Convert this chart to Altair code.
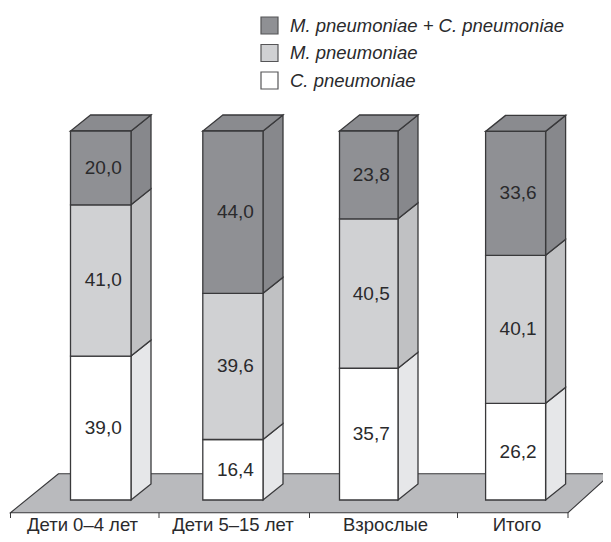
import altair as alt
import pandas as pd

categories = ["Дети 0–4 лет", "Дети 5–15 лет", "Взрослые", "Итого"]
series = ["M. pneumoniae + C. pneumoniae", "M. pneumoniae", "C. pneumoniae"]
both = [20.0, 44.0, 23.8, 33.6]
mp = [41.0, 39.6, 40.5, 40.1]
cp = [39.0, 16.4, 35.7, 26.2]

# layout (x in page pixels, y in per cent)
FONT = "Liberation Sans"
INK = "#39393b"
TEXT = "#2a2a2c"
PX = 3.69
def yv(py):
    return (500 - py) / PX
bar_left = [70.5, 202.8, 339.5, 485.6]
bar_right = [131, 263, 398, 545.6]
DX, DY = 20, 16 / PX
front = {series[0]: "#8f9094", series[1]: "#d0d1d3", series[2]: "#ffffff"}
side = {series[0]: "#87888c", series[1]: "#c0c1c3", series[2]: "#e6e7e9"}
top_fill = "#8a8b8f"
label_x = [82.5, 233, 385.5, 517]
tick_x = [10.5, 159, 309.5, 457.5, 568]

x_scale = alt.Scale(domain=[8, 603], nice=False, zero=False)
y_scale = alt.Scale(domain=[yv(534), yv(8)], nice=False, zero=False)
X = lambda f: alt.X(f, type="quantitative", scale=x_scale, axis=None, title=None)
Y = lambda f: alt.Y(f, type="quantitative", scale=y_scale, axis=None, title=None, stack=None)

fronts, sides, tops, labels = [], [], [], []
for i, cat in enumerate(categories):
    base = 0.0
    for s, v in ((series[2], cp[i]), (series[1], mp[i]), (series[0], both[i])):
        hi = base + v
        fronts.append(dict(s=s, x=bar_left[i], x2=bar_right[i], y=base, y2=hi))
        labels.append(dict(x=(bar_left[i] + bar_right[i]) / 2 + 2.5, y=(base + hi) / 2, t=f"{v:.1f}".replace(".", ",")))
        face = f"{i}-{s}"
        sides.append(dict(f=face, fill=side[s], x=bar_right[i], y=base, y2=hi))
        sides.append(dict(f=face, fill=side[s], x=bar_right[i] + DX, y=base + DY, y2=hi + DY))
        base = hi
    tops.append(dict(f=i, y=base, x=bar_left[i], x2=bar_right[i]))
    tops.append(dict(f=i, y=base + DY, x=bar_left[i] + DX, x2=bar_right[i] + DX))

floor = pd.DataFrame([
    dict(y=yv(512.7), x=10.5, x2=568),
    dict(y=yv(473.7), x=58.5, x2=611),
])
stroke = dict(stroke=INK, strokeWidth=1.3, strokeJoin="miter")

floor_l = alt.Chart(floor).mark_area(orient="horizontal", color="#b9babd", stroke=INK, strokeWidth=1.1).encode(
    y=Y("y"), x=X("x"), x2="x2")
side_l = alt.Chart(pd.DataFrame(sides)).mark_area(orient="vertical", **stroke).encode(
    x=X("x"), y=Y("y"), y2="y2", detail="f:N", fill=alt.Fill("fill:N", scale=None))
top_l = alt.Chart(pd.DataFrame(tops)).mark_area(orient="horizontal", color=top_fill, **stroke).encode(
    y=Y("y"), x=X("x"), x2="x2", detail="f:N")
front_l = alt.Chart(pd.DataFrame(fronts)).mark_rect(**stroke).encode(
    x=X("x"), x2="x2", y=Y("y"), y2="y2",
    fill=alt.Fill("s:N", title=None,
        scale=alt.Scale(domain=series, range=[front[s] for s in series]),
        legend=alt.Legend(orient="none", legendX=252, legendY=8, symbolType="square", symbolSize=289,
            symbolStrokeColor="#555557", symbolStrokeWidth=1.2, labelFont=FONT, labelFontSize=18.5,
            labelFontStyle="italic", labelColor=TEXT, rowPadding=4.5, labelOffset=11, padding=0, labelLimit=400)))
text_l = alt.Chart(pd.DataFrame(labels)).mark_text(font=FONT, fontSize=19, color=TEXT, baseline="middle").encode(
    x=X("x"), y=Y("y"), text="t:N")

ticks = pd.DataFrame(dict(x=tick_x, y=yv(512.7), y2=yv(518)))
tick_l = alt.Chart(ticks).mark_rule(color=INK, strokeWidth=1).encode(x=X("x"), y=Y("y"), y2="y2")
cat_df = pd.DataFrame(dict(x=label_x, y=yv(524.5), t=categories))
cat_l = alt.Chart(cat_df).mark_text(font=FONT, fontSize=18.5, color=TEXT, baseline="middle").encode(
    x=X("x"), y=Y("y"), text="t:N")

chart = (alt.layer(floor_l, tick_l, side_l, top_l, front_l, text_l, cat_l)
    .resolve_scale(fill="independent")
    .properties(width=595, height=526, padding=0, autosize=alt.AutoSizeParams(type="none"), background="white")
    .configure_view(stroke=None))
chart.save("out.html", embed_options={"renderer": "svg", "actions": False})
